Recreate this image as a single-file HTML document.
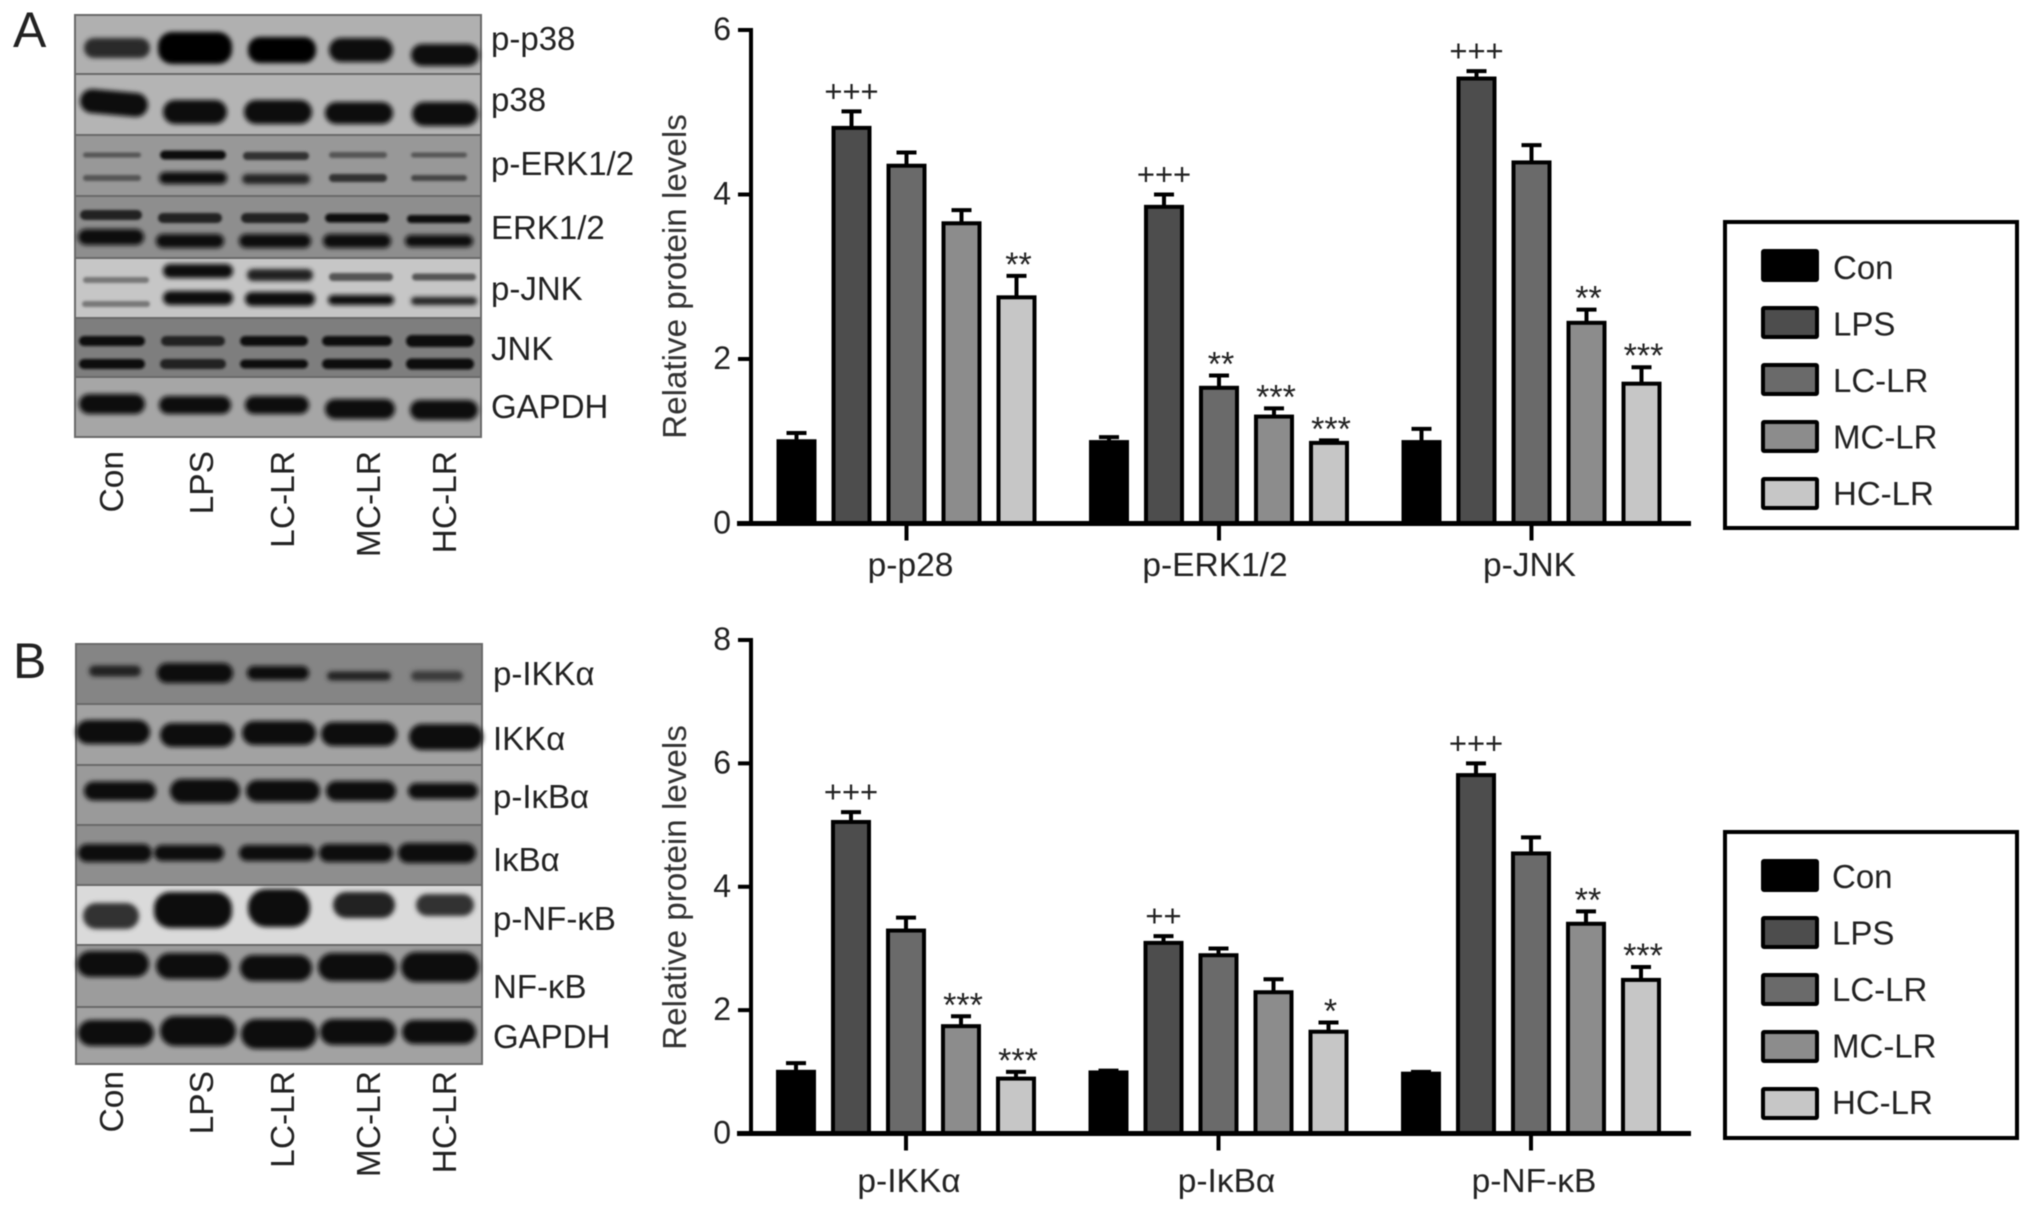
<!DOCTYPE html>
<html lang="en">
<head>
<meta charset="utf-8">
<title>Western blots and relative protein levels</title>
<style>
html,body{margin:0;padding:0;background:#fff;width:2032px;height:1212px;overflow:hidden}
svg{display:block;filter:blur(.6px)}
text{font-family:"Liberation Sans",sans-serif;fill:#222}
.lbl{font-size:33px}
.lane{font-size:33.5px}
</style>
</head>
<body>
<svg id="figure" xmlns="http://www.w3.org/2000/svg" width="2032" height="1212" viewBox="0 0 2032 1212">
<defs>
<filter id="bb" x="-20%" y="-60%" width="140%" height="220%"><feGaussianBlur stdDeviation="2.4"/></filter>
<filter id="bs" x="-20%" y="-80%" width="140%" height="260%"><feGaussianBlur stdDeviation="1.4"/></filter>
</defs>

<text x="13" y="47" style="font-size:50px">A</text>
<text x="13" y="678" style="font-size:50px">B</text>

<g>
<rect x="75" y="15" width="406" height="59" fill="#b0b0b0"/>
<rect x="75" y="74" width="406" height="61" fill="#b4b4b4"/>
<rect x="75" y="135" width="406" height="61" fill="#989898"/>
<rect x="75" y="196" width="406" height="62" fill="#8e8e8e"/>
<rect x="75" y="258" width="406" height="60" fill="#c6c6c6"/>
<rect x="75" y="318" width="406" height="59" fill="#7e7e7e"/>
<rect x="75" y="377" width="406" height="60" fill="#a6a6a6"/>
<g fill="none" stroke="#6a6a6a" stroke-width="2">
<rect x="75" y="15" width="406" height="422"/>
<path d="M75 74H481M75 135H481M75 196H481M75 258H481M75 318H481M75 377H481"/>
</g>
<g filter="url(#bb)" fill="#111">
<rect x="84" y="38" width="66" height="20" rx="10" fill="#2a2a2a"/><rect x="158" y="32" width="74" height="32" rx="14" fill="#000"/><rect x="248" y="37" width="68" height="26" rx="12" fill="#050505"/><rect x="329" y="38" width="64" height="24" rx="12"/><rect x="411" y="44" width="68" height="22" rx="11"/>
<rect x="80" y="91" width="68" height="24" rx="12" transform="rotate(5 114 103)"/><rect x="163" y="100" width="64" height="24" rx="12"/><rect x="244" y="100" width="68" height="24" rx="12"/><rect x="325" y="102" width="68" height="22" rx="11"/><rect x="412" y="102" width="66" height="24" rx="12"/>
<rect x="159" y="172" width="68" height="12" rx="6"/><rect x="242" y="174" width="68" height="10" rx="5" fill="#222"/>
<rect x="78" y="229" width="66" height="16" rx="8"/><rect x="156" y="234" width="68" height="14" rx="7"/><rect x="239" y="234" width="72" height="14" rx="7"/><rect x="323" y="234" width="68" height="14" rx="7"/><rect x="405" y="235" width="68" height="12" rx="6"/>
<rect x="163" y="264" width="70" height="14" rx="7"/><rect x="163" y="291" width="70" height="14" rx="7"/><rect x="247" y="269" width="66" height="12" rx="6" fill="#222"/><rect x="245" y="292" width="70" height="14" rx="7"/><rect x="328" y="295" width="66" height="10" rx="5"/><rect x="411" y="297" width="66" height="8" rx="4" fill="#222"/>
<rect x="79" y="394" width="66" height="20" rx="10"/><rect x="159" y="396" width="72" height="18" rx="9"/><rect x="245" y="396" width="64" height="18" rx="9"/><rect x="325" y="399" width="70" height="20" rx="10"/><rect x="410" y="400" width="68" height="20" rx="10"/>
</g>
<g filter="url(#bs)" fill="#111">
<rect x="83" y="152.5" width="58" height="5" rx="2.5" fill="#555"/><rect x="83" y="175" width="58" height="6" rx="3" fill="#555"/>
<rect x="160" y="150.5" width="66" height="9" rx="4.5"/><rect x="243" y="152" width="66" height="8" rx="4" fill="#333"/>
<rect x="329" y="152" width="58" height="6" rx="3" fill="#555"/><rect x="329" y="174" width="58" height="8" rx="4" fill="#333"/>
<rect x="411" y="152.5" width="56" height="5" rx="2.5" fill="#555"/><rect x="411" y="175" width="56" height="6" rx="3" fill="#444"/>
<rect x="80" y="210" width="62" height="10" rx="5" fill="#222"/><rect x="158" y="213" width="64" height="10" rx="5" fill="#222"/><rect x="241" y="213" width="68" height="10" rx="5" fill="#222"/><rect x="325" y="213.5" width="64" height="9" rx="4.5"/><rect x="407" y="215" width="64" height="8" rx="4"/>
<rect x="83" y="277" width="66" height="6" rx="3" fill="#777"/><rect x="82" y="301" width="68" height="6" rx="3" fill="#777"/><rect x="329" y="273" width="64" height="8" rx="4" fill="#555"/><rect x="412" y="273.5" width="64" height="7" rx="3.5" fill="#555"/>
<rect x="79" y="336" width="66" height="10" rx="5"/><rect x="161" y="336" width="64" height="10" rx="5" fill="#222"/><rect x="240" y="336" width="68" height="10" rx="5"/><rect x="322" y="336" width="70" height="10" rx="5"/><rect x="406" y="335" width="68" height="12" rx="6"/>
<rect x="79" y="359" width="66" height="10" rx="5"/><rect x="160" y="359" width="66" height="10" rx="5" fill="#222"/><rect x="240" y="359.5" width="68" height="9" rx="4.5"/><rect x="322" y="359" width="70" height="10" rx="5"/><rect x="406" y="358.5" width="68" height="11" rx="5.5"/>
</g>
</g>

<g>
<rect x="76" y="644" width="406" height="60" fill="#858585"/>
<rect x="76" y="704" width="406" height="61" fill="#a2a2a2"/>
<rect x="76" y="765" width="406" height="60" fill="#9a9a9a"/>
<rect x="76" y="825" width="406" height="60" fill="#8e8e8e"/>
<rect x="76" y="885" width="406" height="60" fill="#dadada"/>
<rect x="76" y="945" width="406" height="62" fill="#9c9c9c"/>
<rect x="76" y="1007" width="406" height="57" fill="#a2a2a2"/>
<g fill="none" stroke="#6a6a6a" stroke-width="2">
<rect x="76" y="644" width="406" height="420"/>
<path d="M76 704H482M76 765H482M76 825H482M76 885H482M76 945H482M76 1007H482"/>
</g>
<g filter="url(#bb)" fill="#0a0a0a">
<rect x="89" y="665.5" width="52" height="11" rx="5.5" fill="#222"/><rect x="157" y="663" width="76" height="20" rx="10"/><rect x="247" y="666" width="62" height="14" rx="7"/><rect x="327" y="671.5" width="64" height="9" rx="4.5" fill="#222"/><rect x="411" y="671" width="52" height="10" rx="5" fill="#3a3a3a"/>
<rect x="76" y="720" width="74" height="24" rx="12"/><rect x="160" y="723" width="74" height="24" rx="12"/><rect x="242" y="721" width="74" height="24" rx="12"/><rect x="321" y="722" width="76" height="24" rx="12"/><rect x="409" y="724" width="74" height="26" rx="13"/>
<rect x="84" y="781.5" width="72" height="19" rx="9.5"/><rect x="170" y="779" width="70" height="24" rx="12"/><rect x="246" y="780" width="74" height="22" rx="11"/><rect x="326" y="781" width="70" height="20" rx="10"/><rect x="408" y="783" width="70" height="16" rx="8"/>
<rect x="78" y="844" width="74" height="18" rx="9"/><rect x="154" y="845" width="70" height="16" rx="8"/><rect x="239" y="845" width="76" height="16" rx="8"/><rect x="319" y="844" width="74" height="18" rx="9"/><rect x="398" y="843" width="78" height="20" rx="10"/>
<rect x="83" y="903" width="56" height="26" rx="13" fill="#333"/><rect x="154" y="892" width="78" height="36" rx="16"/><rect x="248" y="889" width="62" height="38" rx="18"/><rect x="333" y="892" width="62" height="26" rx="13" fill="#222"/><rect x="416" y="894" width="58" height="22" rx="11" fill="#333"/>
<rect x="77" y="951" width="72" height="26" rx="13"/><rect x="156" y="953" width="74" height="26" rx="13"/><rect x="240" y="955" width="72" height="26" rx="13"/><rect x="318" y="953" width="78" height="28" rx="14"/><rect x="401" y="952" width="78" height="30" rx="15"/>
<rect x="78" y="1020" width="76" height="26" rx="13"/><rect x="160" y="1016" width="76" height="30" rx="15"/><rect x="241" y="1019" width="76" height="30" rx="15"/><rect x="320" y="1019" width="76" height="26" rx="13"/><rect x="402" y="1020" width="74" height="24" rx="12"/>
</g>
</g>

<g class="lbl">
<text x="491" y="50">p-p38</text>
<text x="491" y="111">p38</text>
<text x="491" y="175">p-ERK1/2</text>
<text x="491" y="239">ERK1/2</text>
<text x="491" y="300">p-JNK</text>
<text x="491" y="360">JNK</text>
<text x="491" y="418">GAPDH</text>
</g>
<g class="lbl">
<text x="493" y="685">p-IKKα</text>
<text x="493" y="750">IKKα</text>
<text x="493" y="808">p-IκBα</text>
<text x="493" y="871">IκBα</text>
<text x="493" y="930">p-NF-κB</text>
<text x="493" y="998">NF-κB</text>
<text x="493" y="1048">GAPDH</text>
</g>

<g class="lane" text-anchor="end">
<text transform="translate(123,451) rotate(-90)">Con</text>
<text transform="translate(213,451) rotate(-90)">LPS</text>
<text transform="translate(294,451) rotate(-90)">LC-LR</text>
<text transform="translate(380,451) rotate(-90)">MC-LR</text>
<text transform="translate(456,451) rotate(-90)">HC-LR</text>
</g>
<g class="lane" text-anchor="end">
<text transform="translate(123,1071) rotate(-90)">Con</text>
<text transform="translate(213,1071) rotate(-90)">LPS</text>
<text transform="translate(294,1071) rotate(-90)">LC-LR</text>
<text transform="translate(380,1071) rotate(-90)">MC-LR</text>
<text transform="translate(456,1071) rotate(-90)">HC-LR</text>
</g>
</svg>

<script>
// Shared
const seriesNames = ['Con', 'LPS', 'LC-LR', 'MC-LR', 'HC-LR'];
const seriesFills = ['#000000', '#4d4d4d', '#6a6a6a', '#8c8c8c', '#c6c6c6'];

// Panel A values
const categoriesA = ['p-p28', 'p-ERK1/2', 'p-JNK'];
const ticksA = [0, 2, 4, 6];
const conA = [1.0, 0.99, 0.99];
const lpsA = [4.81, 3.85, 5.41];
const lcA = [4.35, 1.65, 4.39];
const mcA = [3.65, 1.3, 2.44];
const hcA = [2.75, 0.98, 1.7];
const conErrA = [1.1, 1.05, 1.15];
const lpsErrA = [5.01, 4.0, 5.5];
const lcErrA = [4.51, 1.8, 4.6];
const mcErrA = [3.81, 1.4, 2.6];
const hcErrA = [3.01, 1.01, 1.9];
const lpsMarksA = ['+++', '+++', '+++'];
const lcMarksA = ['', '**', ''];
const mcMarksA = ['', '***', '**'];
const hcMarksA = ['**', '***', '***'];

// Panel B values
const categoriesB = ['p-IKKα', 'p-IκBα', 'p-NF-κB'];
const ticksB = [0, 2, 4, 6, 8];
const conB = [1.0, 0.99, 0.97];
const lpsB = [5.05, 3.09, 5.81];
const lcB = [3.29, 2.89, 4.54];
const mcB = [1.74, 2.29, 3.4];
const hcB = [0.89, 1.65, 2.49];
const conErrB = [1.14, 1.02, 1.0];
const lpsErrB = [5.21, 3.2, 6.0];
const lcErrB = [3.5, 3.0, 4.8];
const mcErrB = [1.9, 2.5, 3.6];
const hcErrB = [1.0, 1.8, 2.7];
const lpsMarksB = ['+++', '++', '+++'];
const lcMarksB = ['', '', ''];
const mcMarksB = ['***', '', '**'];
const hcMarksB = ['***', '*', '***'];

const SVGNS = 'http://www.w3.org/2000/svg';
const root = document.getElementById('figure');

function make(parent, tag, attrs, text) {
  const el = document.createElementNS(SVGNS, tag);
  for (const k in attrs) el.setAttribute(k, attrs[k]);
  if (text !== undefined) el.textContent = text;
  parent.appendChild(el);
  return el;
}

function drawChart(id, cfg) {
  const yScale = v => cfg.y0 - v * (cfg.y0 - cfg.yTop) / cfg.yMax;
  const groupX = i => cfg.x0 + i * 312.5;
  const barX = (i, j) => groupX(i) + j * 55;
  const barW = 36;

  const g = make(root, 'g', {});
  
  

  cfg.values.forEach((vals, j) => {
    vals.forEach((v, i) => {
      const cx = barX(i, j) + barW / 2;
      const topY = yScale(v);
      const errY = yScale(cfg.errors[j][i]);

      const stem = make(g, 'line', {x1: cx, x2: cx, y1: topY, y2: errY, stroke: '#000', 'stroke-width': 4});
      
      

      const cap = make(g, 'line', {x1: cx - 10, x2: cx + 10, y1: errY, y2: errY, stroke: '#000', 'stroke-width': 4});
      
      

      const bar = make(g, 'rect', {x: barX(i, j), y: topY, width: barW, height: cfg.y0 - topY, fill: seriesFills[j], stroke: '#000', 'stroke-width': 4});
      
      

      const mark = cfg.marks[j] ? cfg.marks[j][i] : '';
      if (mark) {
        const isPlus = mark.charAt(0) === '+';
        const t = make(g, 'text', {
          x: cx + (isPlus ? 0 : 2),
          y: isPlus ? errY - 10 : errY,
          'text-anchor': 'middle',
          style: 'font-size:' + (isPlus ? 31 : 34) + 'px'
        }, mark);
        
        
      }
    });
  });

  const yAxis = make(g, 'line', {x1: 751, x2: 751, y1: cfg.yTop - 2, y2: cfg.y0 + 2, stroke: '#000', 'stroke-width': 4});
  
  

  const xAxis = make(g, 'line', {x1: 737, x2: 1691, y1: cfg.y0, y2: cfg.y0, stroke: '#000', 'stroke-width': 5});
  
  

  cfg.ticks.forEach(v => {
    const tick = make(g, 'line', {x1: 738, x2: 751, y1: yScale(v), y2: yScale(v), stroke: '#000', 'stroke-width': 4});
    
    

    const lab = make(g, 'text', {x: 731, y: yScale(v) + 10, 'text-anchor': 'end', style: 'font-size:32px'}, String(v));
    
    
  });

  cfg.categories.forEach((c, i) => {
    const cx = barX(i, 2) + barW / 2;
    const tick = make(g, 'line', {x1: cx, x2: cx, y1: cfg.y0, y2: cfg.y0 + 17, stroke: '#000', 'stroke-width': 4});
    
    

    const lab = make(g, 'text', {x: cx + cfg.labelShift[i], y: cfg.labelY, 'text-anchor': 'middle', style: 'font-size:33.5px'}, c);
    
    
  });

  const midY = (cfg.titleTop + cfg.titleBottom) / 2;
  const title = make(g, 'text', {
    transform: 'translate(686,' + midY + ') rotate(-90)',
    'text-anchor': 'middle',
    style: 'font-size:33.2px;fill:#333'
  }, 'Relative protein levels');
  
  

  const lg = make(root, 'g', {});
  
  

  const box = make(lg, 'rect', {x: 1725, y: cfg.legendTop + 2, width: 292, height: 306, fill: '#fff', stroke: '#000', 'stroke-width': 4});
  
  

  seriesNames.forEach((name, j) => {
    const sy = cfg.legendTop + 31 + j * 57;
    const sw = make(lg, 'rect', {x: 1763, y: sy, width: 54, height: 29, rx: 1, fill: seriesFills[j], stroke: '#000', 'stroke-width': 4});
    
    

    const t = make(lg, 'text', {x: cfg.legendTextX, y: cfg.legendTop + 59 + j * 56.5 + cfg.legendTextDy, style: 'font-size:33px'}, name);
    
    
  });
}

drawChart('a', {
  categories: categoriesA,
  ticks: ticksA,
  values: [conA, lpsA, lcA, mcA, hcA],
  errors: [conErrA, lpsErrA, lcErrA, mcErrA, hcErrA],
  marks: [null, lpsMarksA, lcMarksA, mcMarksA, hcMarksA],
  y0: 523.5, yTop: 30, yMax: 6, x0: 778.5,
  labelY: 576, labelShift: [4, -4, -2],
  titleTop: 117, titleBottom: 436,
  legendTop: 220, legendTextX: 1833, legendTextDy: 0
});

drawChart('b', {
  categories: categoriesB,
  ticks: ticksB,
  values: [conB, lpsB, lcB, mcB, hcB],
  errors: [conErrB, lpsErrB, lcErrB, mcErrB, hcErrB],
  marks: [null, lpsMarksB, lcMarksB, mcMarksB, hcMarksB],
  y0: 1133.5, yTop: 640, yMax: 8, x0: 778,
  labelY: 1192, labelShift: [3, 8, 3],
  titleTop: 727, titleBottom: 1048,
  legendTop: 830, legendTextX: 1832, legendTextDy: -1
});
</script>
</body>
</html>
